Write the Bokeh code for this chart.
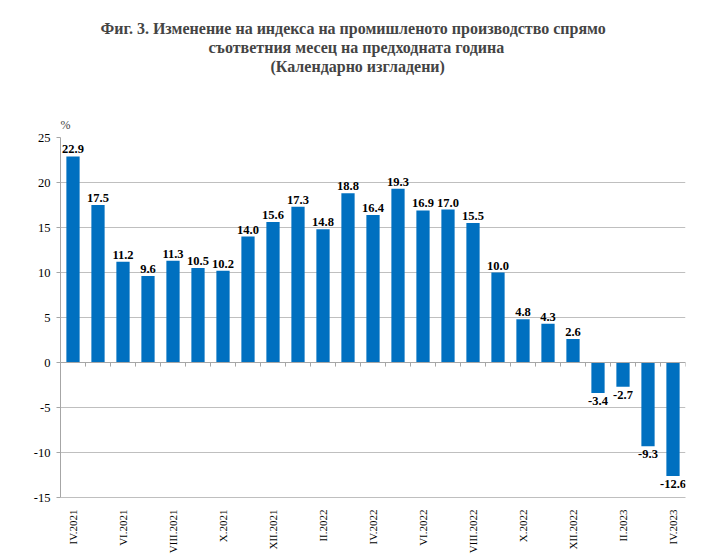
from bokeh.plotting import figure
from bokeh.models import ColumnDataSource, FixedTicker, Title, Span
from bokeh.core.properties import value
from bokeh.embed import file_html
from bokeh.resources import INLINE
import math

months = ["IV.2021", "V.2021", "VI.2021", "VII.2021", "VIII.2021", "IX.2021", "X.2021",
          "XI.2021", "XII.2021", "I.2022", "II.2022", "III.2022", "IV.2022", "V.2022",
          "VI.2022", "VII.2022", "VIII.2022", "IX.2022", "X.2022", "XI.2022", "XII.2022",
          "I.2023", "II.2023", "III.2023", "IV.2023"]
values = [22.9, 17.5, 11.2, 9.6, 11.3, 10.5, 10.2, 14.0, 15.6, 17.3, 14.8, 18.8, 16.4,
          19.3, 16.9, 17.0, 15.5, 10.0, 4.8, 4.3, 2.6, -3.4, -2.7, -9.3, -12.6]
y_ticks = [-15, -10, -5, 0, 5, 10, 15, 20, 25]
title_lines = ["Фиг. 3. Изменение на индекса на промишленото производство спрямо",
               "съответния месец на предходната година",
               "(Календарно изгладени)"]
unit_label = "%"

SERIF = "Liberation Serif"
idx = list(range(len(months)))

p = figure(frame_width=625, frame_height=360, x_range=(-0.5, len(months) - 0.5),
           y_range=(min(y_ticks), max(y_ticks)), output_backend="svg",
           toolbar_location=None, title=None,
           min_border_left=60, min_border_right=27, min_border_bottom=51, min_border_top=137)
p.outline_line_color = None
p.background_fill_color = "white"

# Titles (first added = closest to plot)
p.add_layout(Title(text=unit_label, align="left", text_font=SERIF, text_font_size="12px",
                   text_font_style="normal", offset=0, standoff=11), "above")
p.add_layout(Title(text=" ", text_font=SERIF, text_font_size="10px", standoff=23), "above")
title_offsets = [40, 148, 210]
for t, off in reversed(list(zip(title_lines, title_offsets))):
    p.add_layout(Title(text=t, align="left", text_font=SERIF, text_font_size="16px",
                       text_font_style="bold", standoff=0, offset=off), "above")

src = ColumnDataSource(dict(x=idx, top=values))
p.vbar(x="x", top="top", bottom=0, width=0.53, source=src, fill_color="#0070c0",
       line_color=None)

pos = [i for i in idx if values[i] >= 0]
neg = [i for i in idx if values[i] < 0]
p.text(x=pos, y=[values[i] for i in pos], text=[f"{values[i]:.1f}" for i in pos],
       text_font=value(SERIF), text_font_size="12.5px", text_font_style="bold",
       text_align="center", text_baseline="bottom", y_offset=-3, text_color="black")
p.text(x=neg, y=[values[i] for i in neg], text=[f"{values[i]:.1f}" for i in neg],
       text_font=value(SERIF), text_font_size="12.5px", text_font_style="bold",
       text_align="center", text_baseline="top", y_offset=4, text_color="black")

# zero line with category ticks
p.add_layout(Span(location=0, dimension="width", line_color="#a6a6a6", line_width=1))
bounds = [i - 0.5 for i in range(len(months) + 1)]
p.segment(x0=bounds, y0=[0] * len(bounds), x1=bounds, y1=[-0.45] * len(bounds),
          line_color="#a6a6a6", line_width=1)

# grid
p.xgrid.visible = False
p.ygrid.ticker = FixedTicker(ticks=y_ticks)
p.ygrid.grid_line_color = "#bfbfbf"

# y axis
p.yaxis.ticker = FixedTicker(ticks=y_ticks)
p.yaxis.major_label_overrides = {t: str(t) for t in y_ticks}
p.yaxis.axis_line_color = "#a6a6a6"
p.yaxis.major_tick_line_color = "#a6a6a6"
p.yaxis.major_tick_out = 4
p.yaxis.major_tick_in = 0
p.yaxis.minor_tick_line_color = None
p.yaxis.major_label_text_font = SERIF
p.yaxis.major_label_text_font_size = "12.5px"
p.yaxis.major_label_text_color = "black"
p.yaxis.major_label_standoff = 6

# x axis
even = idx[::2]
p.xaxis.ticker = FixedTicker(ticks=even)
p.xaxis.major_label_overrides = {i: months[i] for i in even}
p.xaxis.major_label_orientation = math.pi / 2
p.xaxis.axis_line_color = "#bfbfbf"
p.xaxis.major_tick_line_color = None
p.xaxis.minor_tick_line_color = None
p.xaxis.major_label_text_font = SERIF
p.xaxis.major_label_text_font_size = "11px"
p.xaxis.major_label_text_color = "black"
p.xaxis.major_label_standoff = 6

open("out.html", "w").write(file_html(p, INLINE))
